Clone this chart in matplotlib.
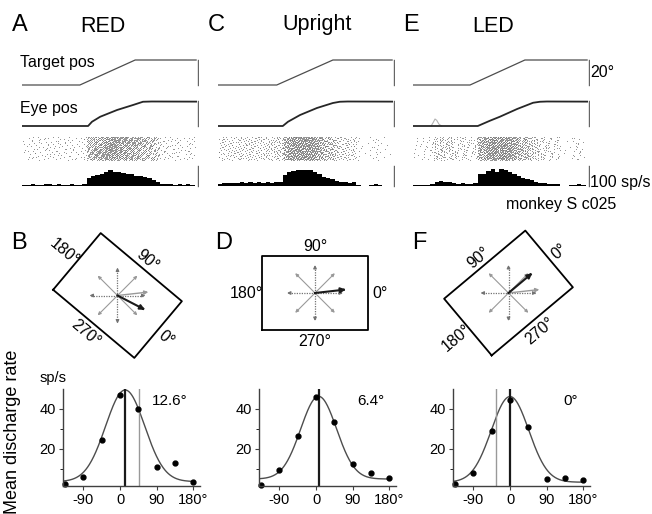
"""
Eye-velocity tuning of one cell (monkey S c025) under three visual frames:
RED (tilted -40 deg), Upright and LED (tilted +40 deg).
Top: target/eye position, spike raster and PSTH; middle: frame sketch with
stimulus directions and preferred direction; bottom: direction tuning curves.
"""
import numpy as np
import matplotlib
matplotlib.use("Agg")
import matplotlib.pyplot as plt

plt.rcParams["font.family"] = ["Liberation Sans", "DejaVu Sans"]

W, H = 652, 514

# ---- data -----------------------------------------------------------------
panel_titles = ["RED", "Upright", "LED"]
top_letters = ["A", "C", "E"]
mid_letters = ["B", "D", "F"]

# target position (time in 40-bin units, position in deg)
target_t = [[0, 13.4, 26.2, 40.3], [0, 13.6, 26.6, 40.3], [0, 13.2, 25.9, 40.3]]
target_p = [0, 0, 20, 20]

# averaged eye position
eye_t = [
    [0, 15.3, 16.2, 18.1, 22.0, 25.7, 28.0, 30.0, 40.3],
    [0, 15.0, 16.2, 19.0, 22.9, 26.6, 28.2, 30.0, 40.3],
    [0, 15.0, 17.8, 20.1, 24.1, 27.8, 29.4, 31.0, 40.3],
]
eye_p = [
    [0, 0, 3.4, 7.4, 12.8, 16.8, 19.4, 19.6, 19.5],
    [0, 0, 3.4, 8.8, 14.4, 18.4, 19.4, 19.6, 19.5],
    [0, 0, 4.2, 7.4, 13.6, 18.6, 19.4, 19.6, 19.5],
]
# single stray trial in the LED condition
stray_t = [4.2, 4.7, 5.1, 5.5, 6.0, 6.6]
stray_p = [0, 3.0, 5.6, 4.5, 1.5, 0]

# PSTH, 40 bins, sp/s
psth = [
    [4, 6, 8, 7, 6, 8, 9, 7, 8, 6, 7, 8, 6, 7, 9,
     40, 50, 55, 62, 70, 78, 72, 68, 66, 60, 58, 52, 48, 44, 40,
     32, 20, 10, 8, 9, 7, 8, 5, 9, 6],
    [12, 14, 13, 16, 14, 18, 14, 20, 15, 18, 14, 20, 16, 22, 18,
     55, 70, 75, 80, 82, 82, 78, 70, 58, 45, 38, 35, 25, 18, 20,
     15, 18, 5, 2, 1, 4, 8, 3, 2, 2],
    [5, 4, 6, 5, 10, 20, 24, 18, 22, 14, 12, 15, 12, 10, 14,
     58, 62, 75, 85, 72, 85, 82, 70, 60, 50, 40, 36, 30, 22, 15,
     14, 12, 10, 12, 1, 2, 4, 6, 8, 3],
]

# frame tilt (deg, counter-clockwise) and preferred direction within frame
frame_tilt = [-40, 0, 40]
pref_dir = [12.6, 6.4, 0.0]
pref_labels = ["12.6°", "6.4°", "0°"]
upright_pref = 6.4
stim_dirs = [0, 45, 90, 135, 180, 225, 270, 315]

# tuning curves
tune_dirs = [-135, -90, -45, 0, 45, 90, 135, 180]
tune_rates = [
    [2.2, 6.0, 24.2, 47.2, 40.0, 10.8, 12.8, 3.5],
    [2.0, 9.1, 26.2, 45.9, 33.3, 12.3, 7.6, 5.2],
    [2.2, 7.7, 29.1, 44.7, 30.8, 4.7, 5.2, 4.4],
]
# gaussian fit parameters: amplitude, centre, sigma, baseline
fit_amp = [46.0, 41.5, 43.0]
fit_mu = [12.6, 6.4, 0.0]
fit_sigma = [48.0, 44.0, 46.0]
fit_base = [3.5, 4.8, 3.2]

# ---- layout helpers -------------------------------------------------------
fig = plt.figure(figsize=(W / 100, H / 100), dpi=100)


def px_axes(left, top, right, bottom):
    ax = fig.add_axes([left / W, 1 - bottom / H, (right - left) / W, (bottom - top) / H])
    ax.patch.set_alpha(0)
    return ax


def fig_text(x, y, s, **kw):
    fig.text(x / W, 1 - y / H, s, **kw)


col_left = [22, 218, 413]
BIN_PX = 4.32
bar_x = 40.7
N_ROWS = 24

for i in range(3):
    L = col_left[i]
    R = L + 41 * BIN_PX

    # target
    ax = px_axes(L, 55, R, 90)
    ax.set_xlim(0, 41)
    ax.set_ylim(-4, 24)
    ax.axis("off")
    ax.plot(target_t[i], target_p, color="0.3", lw=0.9)
    ax.plot([bar_x, bar_x], [0, 20], color="0.4", lw=1.0)

    # eye
    ax = px_axes(L, 96, R, 131)
    ax.set_xlim(0, 41)
    ax.set_ylim(-4, 24)
    ax.axis("off")
    if i == 2:
        ax.plot(stray_t, stray_p, color="0.7", lw=0.8)
    ax.plot(eye_t[i], eye_p[i], color="0.15", lw=1.3)
    ax.plot([bar_x, bar_x], [0, 20], color="0.4", lw=1.0)

    # raster: one-pixel spike dots spread from the PSTH rate in each bin
    ax = px_axes(L, 137, R, 161)
    ax.set_xlim(0, 41)
    ax.set_ylim(N_ROWS, 0)
    ax.axis("off")
    k = 0
    xs, ys = [], []
    for row in range(N_ROWS):
        acc = (row * 0.37) % 1
        for b, rate in enumerate(psth[i]):
            acc += rate * 0.05
            while acc >= 1:
                acc -= 1
                k += 1
                xs.append(b + (k * 0.7548776662 + row * 0.1173) % 1)
                ys.append(row + (k * 0.5698402910) % 1)
    ax.plot(xs, ys, ",", color="0.45", alpha=0.75)

    # histogram
    ax = px_axes(L, 160, R, 190)
    ax.set_xlim(0, 41)
    ax.set_ylim(-20, 130)
    ax.axis("off")
    ax.stairs(psth[i], np.arange(41), fill=True, color="black", baseline=0)
    ax.plot([bar_x, bar_x], [0, 100], color="0.4", lw=1.0)

    fig_text(L - 10, 25, top_letters[i], fontsize=17, va="center", ha="left")

fig_text(80, 26, panel_titles[0], fontsize=15.5, va="center", ha="left")
fig_text(282, 24, panel_titles[1], fontsize=15.5, va="center", ha="left")
fig_text(472, 26, panel_titles[2], fontsize=15.5, va="center", ha="left")
fig_text(20, 63, "Target pos", fontsize=11.5, va="center", ha="left")
fig_text(20, 108, "Eye pos", fontsize=11.5, va="center", ha="left")
fig_text(590, 73, "20°", fontsize=11.5, va="center", ha="left")
fig_text(590, 182, "100 sp/s", fontsize=11.5, va="center", ha="left")
fig_text(506, 205, "monkey S c025", fontsize=11.5, va="center", ha="left")

# ---- frame sketches -------------------------------------------------------
mid_center = [(117.5, 295.5), (315, 293), (508.5, 293)]
mid_letter_x = [11, 215, 412]
half_w, half_h = 53, 37
label_pos = {"90°": (0, 46.5), "270°": (0, -49), "180°": (-69, -1), "0°": (65, -1)}


def rot(x, y, ang):
    a = np.deg2rad(ang)
    return x * np.cos(a) - y * np.sin(a), x * np.sin(a) + y * np.cos(a)


def arrow(ax, ang, length, color, lw, ls="-", head=5):
    dx, dy = np.cos(np.deg2rad(ang)), np.sin(np.deg2rad(ang))
    ax.plot([0, dx * (length - 2)], [0, dy * (length - 2)], color=color, lw=lw, ls=ls)
    ax.annotate("", xy=(dx * length, dy * length), xytext=(dx * (length - 3), dy * (length - 3)),
                arrowprops=dict(arrowstyle="-|>", color=color, lw=lw,
                                mutation_scale=head, shrinkA=0, shrinkB=0))


for i in range(3):
    cx, cy = mid_center[i]
    ax = px_axes(cx - 80, cy - 75, cx + 80, cy + 75)
    ax.set_xlim(-80, 80)
    ax.set_ylim(-75, 75)
    ax.axis("off")
    tilt = frame_tilt[i]

    corners = [(-half_w, -half_h), (half_w, -half_h), (half_w, half_h), (-half_w, half_h), (-half_w, -half_h)]
    rc = [rot(x, y, tilt) for x, y in corners]
    ax.plot([p[0] for p in rc], [p[1] for p in rc], color="black", lw=1.3)

    for s, (lx, ly) in label_pos.items():
        x, y = rot(lx, ly, tilt)
        ax.text(x, y, s, fontsize=11.5, ha="center", va="center",
                rotation=tilt, rotation_mode="anchor")

    for d in stim_dirs:
        if d % 90 == 0:
            arrow(ax, d, 28, "0.45", 0.9, ls=(0, (1, 1)), head=4.5)
        else:
            arrow(ax, d, 28, "0.6", 0.8, head=4.5)
    if tilt != 0:
        arrow(ax, upright_pref, 31, "0.6", 1.0, head=5.5)
    arrow(ax, tilt + pref_dir[i], 31, "0.1", 1.5, head=7)

    fig_text(mid_letter_x[i], 243, mid_letters[i], fontsize=17, va="center", ha="left")

# ---- tuning curves --------------------------------------------------------
tune_left = [63, 259, 453]
pref_label_x = [152, 357, 563]
for i in range(3):
    L = tune_left[i]
    ax = px_axes(L, 389, L + 337 * 0.4074, 486)
    ax.set_xlim(-140, 197)
    ax.set_ylim(1.3, 50)
    for side in ("top", "right"):
        ax.spines[side].set_visible(False)
    for side in ("left", "bottom"):
        ax.spines[side].set_linewidth(1.0)
        ax.spines[side].set_color("0.25")

    xs = np.linspace(-140, 182, 300)
    fit = fit_base[i] + fit_amp[i] * np.exp(-(xs - fit_mu[i]) ** 2 / (2 * fit_sigma[i] ** 2))
    ax.plot(xs, fit, color="0.3", lw=1.0)
    ax.axvline(pref_dir[i], color="0.1", lw=1.6)
    if frame_tilt[i] != 0:
        ax.axvline(upright_pref - frame_tilt[i], color="0.6", lw=1.0)
    ax.plot(tune_dirs, tune_rates[i], "o", color="black", ms=3.5, clip_on=False)

    ax.set_xticks([-90, 0, 90, 180])
    ax.set_xticklabels(["-90", "0", "90", "180°"])
    ax.set_yticks([20, 40])
    ax.set_yticks([10, 30], minor=True)
    ax.tick_params(axis="both", labelsize=10.5, length=3, width=0.8, color="0.25", pad=2)
    ax.tick_params(axis="y", which="minor", length=2, width=0.6)

    fig_text(pref_label_x[i], 401, pref_labels[i], fontsize=11, va="center", ha="left")

fig_text(53, 378, "sp/s", fontsize=10.5, va="center", ha="center")
fig_text(13, 432, "Mean discharge rate", fontsize=13, va="center", ha="center", rotation=90)

fig.savefig("out.png", dpi=100)
